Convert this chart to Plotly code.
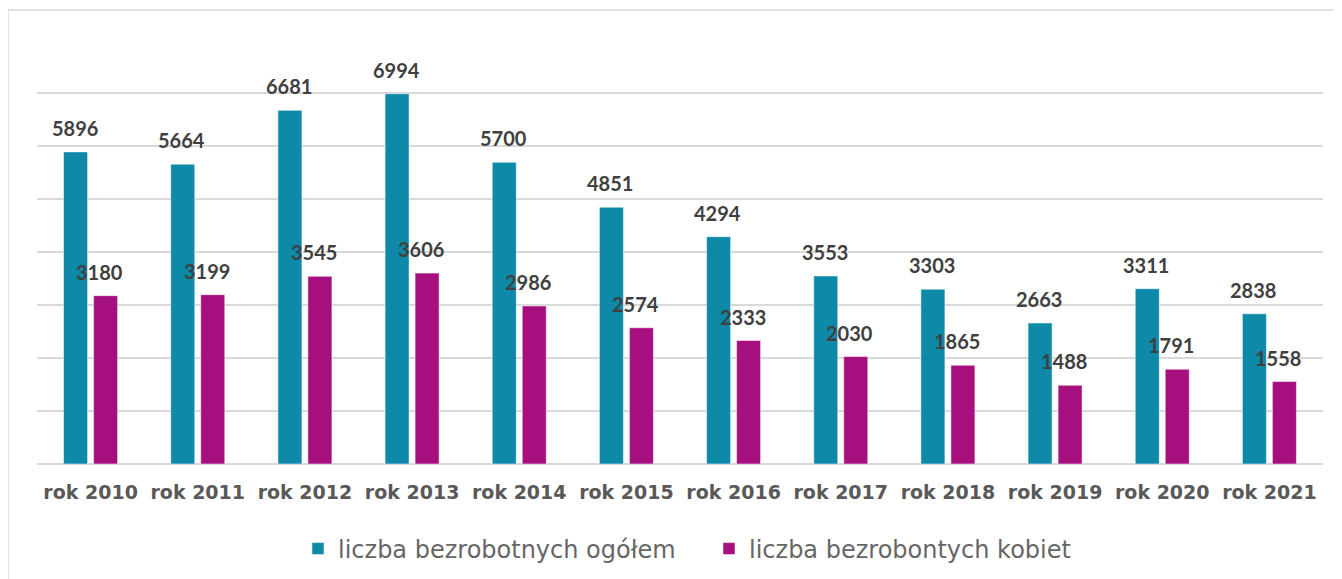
import plotly.graph_objects as go

categories = ["rok 2010", "rok 2011", "rok 2012", "rok 2013", "rok 2014", "rok 2015",
              "rok 2016", "rok 2017", "rok 2018", "rok 2019", "rok 2020", "rok 2021"]
ogolem = [5896, 5664, 6681, 6994, 5700, 4851, 4294, 3553, 3303, 2663, 3311, 2838]
kobiety = [3180, 3199, 3545, 3606, 2986, 2574, 2333, 2030, 1865, 1488, 1791, 1558]
series_names = ["liczba bezrobotnych ogółem", "liczba bezrobontych kobiet"]
colors = ["#0E89A8", "#A50F7E"]

# the page body adds an 8px offset; compensate in margins
OFF = 8
W, H = 1342, 579
L, T = 37 - OFF, 40 - OFF
plot_w, plot_h = 1323 - 37, 464 - 40
R = W - L - plot_w
B = H - T - plot_h

fig = go.Figure()
for name, vals, col in zip(series_names, [ogolem, kobiety], colors):
    fig.add_trace(go.Bar(
        x=categories, y=vals, name=name,
        marker=dict(color=col, line=dict(color="rgba(255,255,255,0.5)", width=1)),
    ))

label_font = dict(family="Lato, sans-serif", size=20, color="#404040", weight="bold")
for vals, shift in [(ogolem, -16), (kobiety, 9)]:
    for c, v in zip(categories, vals):
        fig.add_annotation(x=c, y=v, text=str(v), showarrow=False,
                           xshift=shift, yshift=24, font=label_font)

# outer chart border
x0 = (8 - 37) / plot_w
y1 = (464 - 10) / plot_h
fig.add_shape(type="rect", xref="paper", yref="paper", x0=x0, x1=1.2, y0=-0.5, y1=y1,
              line=dict(color="#D9D9D9", width=1.5), fillcolor="rgba(0,0,0,0)", layer="below")

fig.update_layout(
    width=W, height=H,
    margin=dict(l=L, r=R, t=T, b=B, autoexpand=False),
    paper_bgcolor="white", plot_bgcolor="white",
    barmode="group", bargap=0.44, bargroupgap=0.2,
    showlegend=True,
    legend=dict(orientation="h", x=(298 - 37) / plot_w, xanchor="left", y=(464 - 549) / plot_h,
                yanchor="middle", font=dict(family="DejaVu Sans, sans-serif", size=24, color="#666666"),
                itemwidth=30, tracegroupgap=0, entrywidth=366, entrywidthmode="pixels"),
    font=dict(family="DejaVu Sans, sans-serif", color="#595959"),
    xaxis=dict(showline=False, ticks="",
               tickfont=dict(size=19, color="#595959", family="DejaVu Sans, sans-serif", weight="bold"),
               ticklabelstandoff=15),
    yaxis=dict(range=[0, 8010], tickvals=[0, 1000, 2000, 3000, 4000, 5000, 6000, 7000, 8000],
               showticklabels=False, showgrid=True,
               gridcolor="#D9D9D9", gridwidth=2, zeroline=True, zerolinecolor="#D9D9D9", zerolinewidth=2),
)

fig.write_html("out.html")
